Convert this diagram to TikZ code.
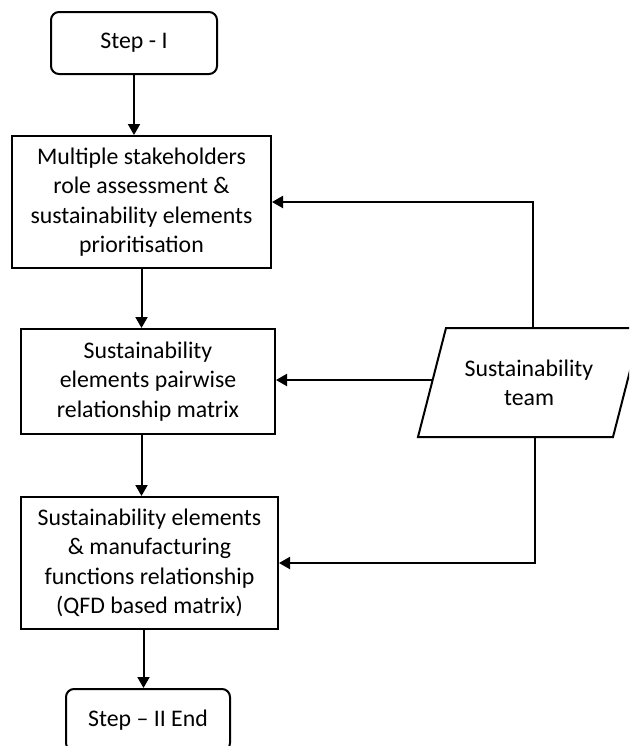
\documentclass[tikz,border=0pt]{standalone}
\usepackage{fontspec}
\setmainfont{Carlito}
\usepackage{xcolor}
\definecolor{cLine}{HTML}{000000}
\usepackage{tikz}
\usetikzlibrary{positioning,arrows.meta,calc}
\tikzset{
  node-box/.style={draw=cLine,line width=1pt,align=center,inner sep=2pt,
    font=\fontsize{11.9}{14.7}\selectfont},
  node-step/.style={node-box,rounded corners=4pt},
  node-text/.style={align=center,font=\fontsize{11.9}{14.7}\selectfont},
  arrow/.style={-{Triangle[length=5.5pt,width=6pt]},line width=1pt,draw=cLine},
  link/.style={line width=1pt,draw=cLine},
}
\begin{document}
\begin{tikzpicture}[x=0.5pt,y=-0.5pt]
  \clip (0,0) rectangle (629,746);
  \node[node-step,minimum width=83pt,minimum height=31pt] (step1) at (134,43) {Step - I};
  \node[node-box,minimum width=129.5pt,minimum height=66pt] (assess) at (141.5,202)
    {Multiple stakeholders\\role assessment \&\\sustainability elements\\prioritisation};
  \node[node-box,minimum width=127pt,minimum height=52.5pt] (pair) at (148,381.5)
    {Sustainability\\elements pairwise\\relationship matrix};
  \node[node-box,minimum width=128.5pt,minimum height=66pt] (qfd) at (149.5,563)
    {Sustainability elements\\\& manufacturing\\functions relationship\\(QFD based matrix)};
  \node[node-step,minimum width=82pt,minimum height=31pt] (step2) at (148,720) {Step – II End};
  % parallelogram
  \draw[link] (418,437) -- (446,328) -- (641,328) -- (613,437) -- cycle;
  \node[node-text] (team) at (529,383) {Sustainability\\team};
  \coordinate (team-top) at (533,328);
  \coordinate (team-left) at (432.6,380);
  \coordinate (team-bot) at (535,437);
  \draw[arrow] (step1.south) -- (step1.south |- assess.north);
  \draw[arrow] (assess.south) -- (assess.south |- pair.north);
  \draw[arrow] (assess.south |- pair.south) -- (assess.south |- qfd.north);
  \draw[arrow] ([xshift=-3pt]qfd.south) -- ([xshift=-3pt]qfd.south |- step2.north);
  \draw[arrow] (team-top) |- (assess.east);
  \draw[arrow] (team-left) -- (team-left -| pair.east);
  \draw[arrow] (team-bot) |- (qfd.east);
\end{tikzpicture}
\end{document}
